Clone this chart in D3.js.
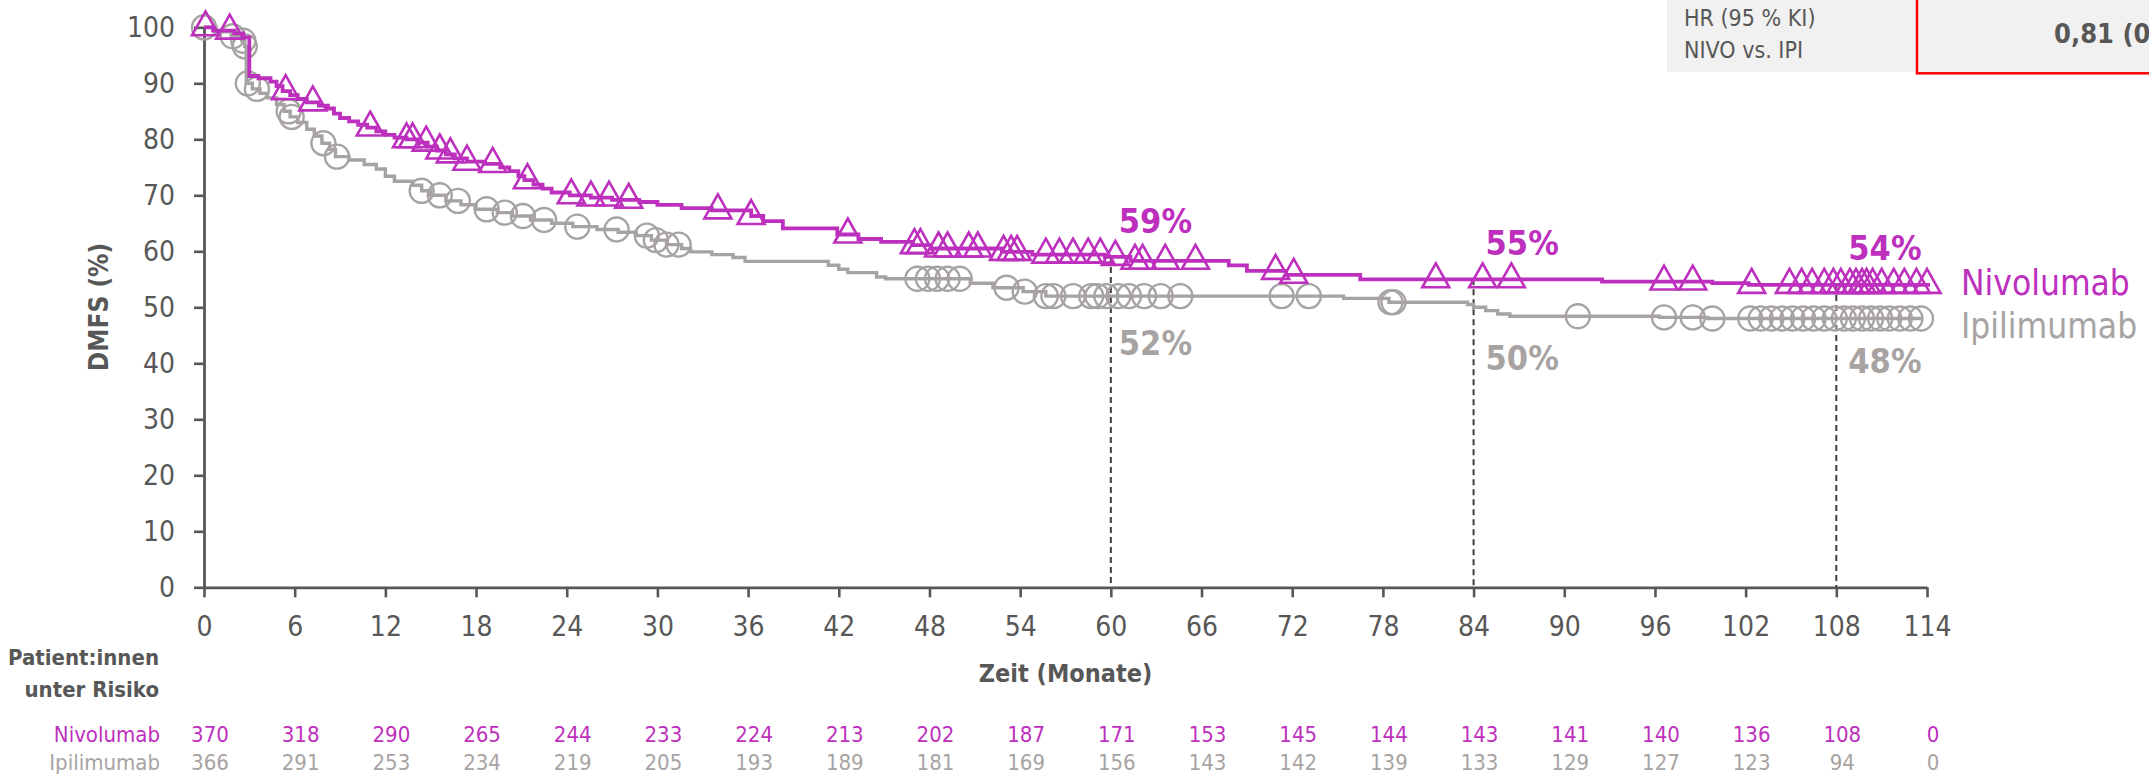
<!DOCTYPE html>
<html>
<head>
<meta charset="utf-8">
<script src="https://cdn.jsdelivr.net/npm/d3@7"></script>
<style>
  html, body { margin: 0; padding: 0; background: #ffffff; }
  svg { display: block; }
  .cond { font-family: "DejaVu Sans Condensed", "DejaVu Sans", sans-serif; font-stretch: condensed; }
</style>
</head>
<body>
<svg id="chart" width="2149" height="776"></svg>
<script>
// ---- Data ----------------------------------------------------------------
// Kaplan-Meier step points (months, DMFS %)
const nivoTime = [0, 0.6, 2.0, 2.6, 3.0, 3.6, 4.4, 4.8, 5.2, 5.7, 6.2, 6.8, 7.6, 8.2, 8.6, 9.0, 9.6, 10.2, 10.8, 11.4,
  12.0, 12.6, 13.4, 14.2, 14.8, 15.4, 16.0, 16.6, 17.4, 18.6, 19.6, 20.2, 20.8, 21.2, 21.8, 22.4, 23.0, 24.2, 25.6, 27.0,
  28.8, 30.0, 31.6, 33.6, 36.2, 37.0, 38.3, 41.9, 43.3, 44.8, 46.9, 48.1, 52.8, 54.8, 59.6, 61.3, 67.8, 69.0, 71.6, 76.5,
  92.5, 99.8, 102.2, 114.2];
const nivoSurv = [100, 99.4, 98.9, 98.2, 91.3, 90.9, 90.3, 89.5, 88.6, 87.9, 87.2, 86.6, 86.0, 85.5, 84.6, 83.8, 83.2, 82.6, 82.1, 81.4,
  80.8, 80.3, 80.0, 79.4, 78.7, 78.0, 77.3, 76.6, 76.0, 75.6, 75.0, 74.3, 73.4, 72.7, 71.9, 71.2, 70.5, 70.0, 69.6, 69.2,
  68.8, 68.3, 67.7, 67.3, 66.3, 65.4, 64.1, 63.0, 62.2, 61.7, 61.1, 60.5, 59.9, 59.4, 59.0, 58.3, 57.5, 56.5, 55.8, 55.0,
  54.6, 54.3, 54.0, 54.0];

const ipiTime = [0, 0.8, 1.8, 2.5, 2.7, 2.8, 3.2, 3.7, 4.2, 4.8, 5.3, 5.7, 6.2, 6.8, 7.3, 7.8, 8.3, 8.7, 9.6, 10.6,
  11.4, 12.0, 12.6, 13.8, 14.4, 15.0, 16.0, 17.0, 18.0, 19.4, 20.4, 21.6, 23.0, 24.4, 26.0, 27.4, 28.6, 29.6, 30.6, 31.6,
  32.2, 33.6, 35.0, 35.8, 41.3, 42.0, 42.6, 44.5, 45.1, 50.7, 52.2, 54.2, 55.7, 75.4, 78.4, 83.6, 84.0, 84.8, 85.6, 86.4,
  96.3, 99.5, 113.6];
const ipiSurv = [100, 99.2, 98.4, 97.6, 96.6, 90.0, 89.0, 88.2, 87.4, 86.2, 85.0, 84.0, 83.0, 81.8, 80.6, 79.3, 78.2, 76.9, 76.3, 75.5,
  74.7, 73.4, 72.5, 71.8, 70.8, 70.0, 69.0, 68.3, 67.5, 66.9, 66.3, 65.6, 65.0, 64.4, 63.9, 63.4, 62.8, 62.0, 61.2, 60.5,
  59.9, 59.4, 58.9, 58.2, 57.5, 56.8, 56.2, 55.4, 55.1, 54.3, 53.5, 52.8, 52.0, 51.6, 50.9, 50.5, 50.0, 49.4, 48.8, 48.4,
  48.2, 48.0, 48.0];

// Censoring times (months)
const nivoCensor = [0.1, 1.7, 5.4, 7.2, 11.0, 13.4, 13.8, 14.7, 15.6, 16.3, 17.4, 19.1, 21.4, 24.3, 25.6, 26.8, 28.1,
  34.0, 36.2, 42.6, 47.0, 47.4, 48.6, 49.2, 50.6, 51.2, 52.9, 53.4, 53.8, 55.7, 56.6, 57.5, 58.5, 59.3, 60.3, 61.6, 62.1,
  63.6, 65.6, 70.9, 72.1, 81.5, 84.6, 86.5, 96.6, 98.5, 102.4, 104.9, 105.7, 106.4, 107.2, 107.8, 108.3, 108.9, 109.3,
  109.7, 110.0, 110.4, 111.0, 111.8, 112.5, 113.3, 114.0];
const ipiCensor = [0.0, 1.9, 2.6, 2.7, 2.9, 3.5, 5.6, 5.8, 7.9, 8.8, 14.4, 15.6, 16.8, 18.7, 19.9, 21.1, 22.5, 24.7,
  27.3, 29.3, 29.9, 30.6, 31.4, 47.2, 47.9, 48.5, 49.2, 50.0, 53.1, 54.3, 55.7, 56.2, 57.5, 58.7, 59.1, 59.7, 60.5,
  61.2, 62.2, 63.3, 64.6, 71.3, 73.1, 78.5, 78.7, 90.9, 96.6, 98.5, 99.8, 102.3, 103.0, 103.7, 104.4, 105.1, 105.8,
  106.5, 107.2, 107.9, 108.5, 109.1, 109.7, 110.3, 110.9, 111.5, 112.2, 112.9, 113.6];

// Landmark estimates
const landmarkMonths = [60, 84, 108];
const nivoLandmark = [59, 55, 54];
const ipiLandmark = [52, 50, 48];

// Axis ticks and numbers at risk
const monthTicks = [0, 6, 12, 18, 24, 30, 36, 42, 48, 54, 60, 66, 72, 78, 84, 90, 96, 102, 108, 114];
const pctTicks = [0, 10, 20, 30, 40, 50, 60, 70, 80, 90, 100];
const nivoRisk = [370, 318, 290, 265, 244, 233, 224, 213, 202, 187, 171, 153, 145, 144, 143, 141, 140, 136, 108, 0];
const ipiRisk = [366, 291, 253, 234, 219, 205, 193, 189, 181, 169, 156, 143, 142, 139, 133, 129, 127, 123, 94, 0];

const seriesNames = ["Nivolumab", "Ipilimumab"];

// ---- Styling -------------------------------------------------------------
const MAGENTA = "#bd30bd";
const GREY = "#a8a3a3";
const INK = "#575757";

const svg = d3.select("#chart");

const x = d3.scaleLinear().domain([0, 114]).range([204, 1927]);
const y = d3.scaleLinear().domain([0, 100]).range([587.3, 27.3]);

// ---- HR box --------------------------------------------------------------
svg.append("rect").attr("x", 1667).attr("y", 0).attr("width", 2149 - 1667).attr("height", 72).attr("fill", "#f1f1f1");
svg.append("rect").attr("x", 1917).attr("y", -4).attr("width", 260).attr("height", 77.3)
  .attr("fill", "none").attr("stroke", "#ff0000").attr("stroke-width", 2.5);
svg.append("text").attr("class", "cond").attr("x", 1684).attr("y", 25.5)
  .attr("font-size", 23).attr("fill", INK).text("HR (95 % KI)");
svg.append("text").attr("class", "cond").attr("x", 1684).attr("y", 58)
  .attr("font-size", 23).attr("fill", INK).text("NIVO vs. IPI");
svg.append("text").attr("class", "cond").attr("x", 2054).attr("y", 43)
  .attr("font-size", 27).attr("font-weight", "bold").attr("fill", INK).text("0,81 (0");

// ---- Axes ----------------------------------------------------------------
const yAxis = svg.append("g").attr("transform", `translate(${x(0)},0)`)
  .call(d3.axisLeft(y).tickValues(pctTicks).tickSize(10).tickSizeOuter(0).tickPadding(19));
const xAxis = svg.append("g").attr("transform", `translate(0,${y(0)})`)
  .call(d3.axisBottom(x).tickValues(monthTicks).tickSize(10).tickSizeOuter(0).tickPadding(19));
[yAxis, xAxis].forEach(g => {
  g.select(".domain").attr("stroke", INK).attr("stroke-width", 2.8);
  g.selectAll(".tick line").attr("stroke", INK).attr("stroke-width", 2.6);
  g.selectAll(".tick text").attr("class", "cond").attr("font-size", 28).attr("fill", INK);
});

svg.append("text").attr("class", "cond")
  .attr("transform", "translate(108,307) rotate(-90)")
  .attr("text-anchor", "middle").attr("font-size", 26).attr("font-weight", "bold").attr("fill", INK)
  .text("DMFS (%)");
svg.append("text").attr("class", "cond").attr("x", (x(0) + x(114)) / 2).attr("y", 682)
  .attr("text-anchor", "middle").attr("font-size", 25).attr("font-weight", "bold").attr("fill", INK)
  .text("Zeit (Monate)");

// ---- Survival curves -----------------------------------------------------
function stepValue(times, surv, t) {
  const i = d3.bisectRight(times, t) - 1;
  return surv[Math.max(0, i)];
}

// Landmark guides, from the Nivolumab estimate down to the axis
svg.append("g").selectAll("line").data(landmarkMonths).join("line")
  .attr("x1", d => x(d)).attr("x2", d => x(d))
  .attr("y1", (d, i) => y(nivoLandmark[i])).attr("y2", y(0))
  .attr("stroke", "#3f3f3f").attr("stroke-width", 2).attr("stroke-dasharray", "6,4");

const line = d3.line().x(d => x(d[0])).y(d => y(d[1])).curve(d3.curveStepAfter);

const triPath = (w, h) => `M0,${-2 * h / 3}L${w / 2},${h / 3}L${-w / 2},${h / 3}Z`;

// Ipilimumab
svg.append("path").datum(d3.zip(ipiTime, ipiSurv)).attr("d", line)
  .attr("fill", "none").attr("stroke", GREY).attr("stroke-width", 3.4);
svg.append("g").selectAll("circle").data(ipiCensor).join("circle")
  .attr("cx", d => x(d)).attr("cy", d => y(stepValue(ipiTime, ipiSurv, d)))
  .attr("r", 12).attr("fill", "none").attr("stroke", GREY).attr("stroke-width", 2.4);

// Nivolumab
svg.append("path").datum(d3.zip(nivoTime, nivoSurv)).attr("d", line)
  .attr("fill", "none").attr("stroke", MAGENTA).attr("stroke-width", 3.8);
svg.append("g").selectAll("path").data(nivoCensor).join("path")
  .attr("transform", d => `translate(${x(d)},${y(stepValue(nivoTime, nivoSurv, d))})`)
  .attr("d", triPath(27, 24)).attr("fill", "none").attr("stroke", MAGENTA)
  .attr("stroke-width", 2.6).attr("stroke-linejoin", "miter");

// ---- Landmark labels -----------------------------------------------------
const nivoLabelY = [233, 255, 260];
const ipiLabelY = [355, 370, 373];
svg.append("g").selectAll("text").data(landmarkMonths).join("text")
  .attr("class", "cond").attr("x", (d, i) => x(d) + (i === 0 ? 8 : 12)).attr("y", (d, i) => nivoLabelY[i])
  .attr("font-size", 34).attr("font-weight", "bold").attr("fill", MAGENTA)
  .text((d, i) => nivoLandmark[i] + "%");
svg.append("g").selectAll("text").data(landmarkMonths).join("text")
  .attr("class", "cond").attr("x", (d, i) => x(d) + (i === 0 ? 8 : 12)).attr("y", (d, i) => ipiLabelY[i])
  .attr("font-size", 34).attr("font-weight", "bold").attr("fill", GREY)
  .text((d, i) => ipiLandmark[i] + "%");

// ---- Series labels -------------------------------------------------------
svg.append("text").attr("class", "cond").attr("x", 1961).attr("y", 295)
  .attr("font-size", 35).attr("fill", MAGENTA).text(seriesNames[0]);
svg.append("text").attr("class", "cond").attr("x", 1961).attr("y", 338)
  .attr("font-size", 35).attr("fill", GREY).text(seriesNames[1]);

// ---- Numbers at risk -----------------------------------------------------
svg.append("text").attr("class", "cond").attr("x", 159).attr("y", 665)
  .attr("text-anchor", "end").attr("font-size", 22).attr("font-weight", "bold").attr("fill", INK).text("Patient:innen");
svg.append("text").attr("class", "cond").attr("x", 159).attr("y", 697)
  .attr("text-anchor", "end").attr("font-size", 22).attr("font-weight", "bold").attr("fill", INK).text("unter Risiko");

const riskRows = [
  { name: seriesNames[0], values: nivoRisk, color: MAGENTA, y: 742 },
  { name: seriesNames[1], values: ipiRisk, color: GREY, y: 770 }
];
riskRows.forEach(row => {
  svg.append("text").attr("class", "cond").attr("x", 160).attr("y", row.y)
    .attr("text-anchor", "end").attr("font-size", 22).attr("fill", row.color).text(row.name);
  svg.append("g").selectAll("text").data(row.values).join("text")
    .attr("class", "cond").attr("x", (d, i) => x(monthTicks[i]) + 6).attr("y", row.y)
    .attr("text-anchor", "middle").attr("font-size", 22).attr("fill", row.color).text(d => d);
});
</script>
</body>
</html>
